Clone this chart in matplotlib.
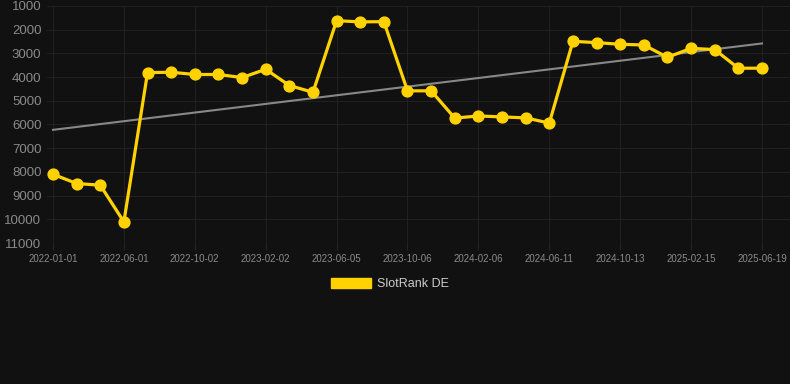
import matplotlib
matplotlib.use("Agg")
import matplotlib.pyplot as plt
from matplotlib.patches import Patch
import numpy as np

plt.rcParams['font.family'] = ['Liberation Sans', 'DejaVu Sans']

tick_dates = ["2022-01-01", "2022-06-01", "2022-10-02", "2023-02-02", "2023-06-05",
              "2023-10-06", "2024-02-06", "2024-06-11", "2024-10-13", "2025-02-15",
              "2025-06-19"]
rank_de = [8100, 8490, 8560, 10110, 3810, 3795, 3890, 3890, 4020, 3670,
           4355, 4640, 1620, 1670, 1660, 4580, 4580, 5730, 5640, 5680,
           5720, 5940, 2490, 2545, 2615, 2645, 3165, 2785, 2840, 3625, 3625]
series_name = "SlotRank DE"

bg = "#111111"
gold = "#FFD200"
x = np.arange(len(rank_de))

fig = plt.figure(figsize=(7.9, 3.84), dpi=100, facecolor=bg)
ax = fig.add_axes([47/790, 1-243/384, 1-47/790, (243-6)/384], facecolor=bg)

# trend line (least squares)
coef = np.polyfit(x, rank_de, 1)
ax.plot(x, np.polyval(coef, x), color="#888888", lw=1.5, zorder=2)

ax.plot(x, rank_de, color=gold, lw=2.3, marker="o", markersize=7.8,
        markerfacecolor=gold, markeredgecolor=gold, zorder=3)

ax.set_ylim(11000, 1000)
ax.set_yticks(np.arange(1000, 11001, 1000))
ax.set_xlim(-6/23.63, 30 + 28/23.63)
tick_pos = x[::3]
ax.set_xticks(tick_pos)
ax.set_xticklabels(tick_dates)

for s in ax.spines.values():
    s.set_visible(False)
ax.grid(True, color="#202020", lw=0.8)
ax.set_axisbelow(True)
ax.tick_params(axis='y', colors="#8a8a8a", labelsize=9.5, length=0, pad=4)
ax.tick_params(axis='x', colors="#242424", labelcolor="#8a8a8a", labelsize=7, length=5, pad=3)

fig.legend(handles=[Patch(facecolor=gold, edgecolor=gold)], labels=[series_name],
           loc="center", bbox_to_anchor=(390/790, 1-284/384), frameon=False,
           handlelength=3.2, handleheight=0.9, handletextpad=0.45,
           labelcolor="#cccccc", fontsize=9)

fig.savefig("out.png", dpi=100, facecolor=bg)
